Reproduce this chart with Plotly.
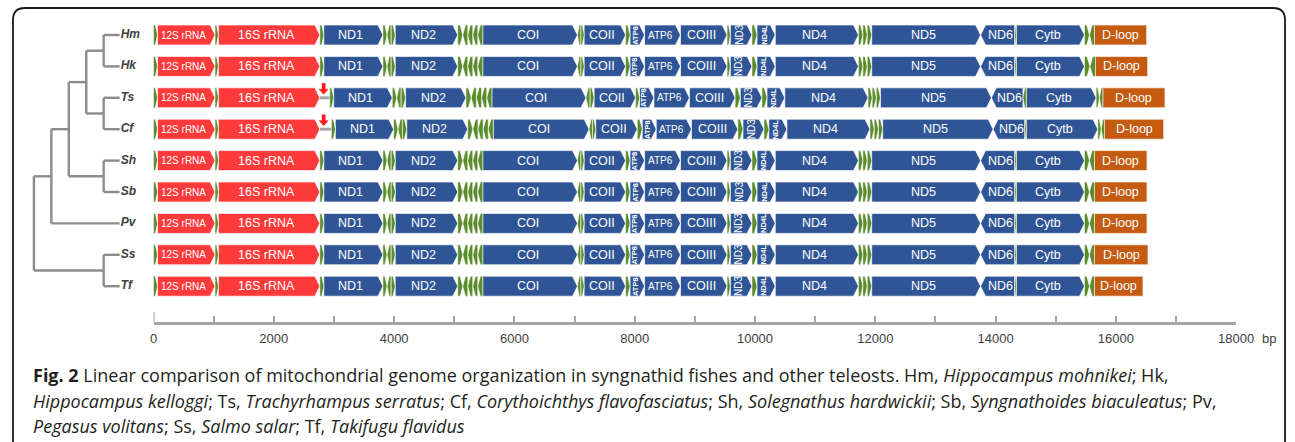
import plotly.graph_objects as go

REF_W, H = 1295, 442          # design grid (px)
FIG_W = 1313                  # rendered canvas width

# ---------------------------------------------------------------- data
SPECIES = ["Hm", "Hk", "Ts", "Cf", "Sh", "Sb", "Pv", "Ss", "Tf"]
TREE = (((((("Hm", "Hk"), ("Ts", "Cf")), ("Sh", "Sb")), "Pv"), ("Ss", "Tf")))

FEATURES = ["F", "12S rRNA", "V", "16S rRNA", "NC", "L1", "ND1", "IQM", "ND2",
            "WANCY", "COI", "SD", "COII", "K", "ATP8", "ATP6", "COIII", "G",
            "ND3", "R", "ND4L", "ND4", "HSL", "ND5", "ND6", "E", "Cytb", "TP",
            "D-loop"]
KINDS = ["trna", "rrna", "trna", "rrna", "nc", "trna", "pcg", "trna", "pcg",
         "trna", "pcg", "trna", "pcg", "trna", "pcg", "pcg", "pcg", "trna",
         "pcg", "trna", "pcg", "pcg", "trna", "pcg", "pcg", "trna", "pcg", "trna",
         "dloop"]
# strand of each gene; tRNA clusters list one sign per tRNA
STRANDS = ["+", "+", "+", "+", "", "+", "+", "+-+", "+",
           "+----", "+", "-+", "+", "+", "+", "+", "+", "+",
           "+", "+", "+", "+", "+++", "+", "-", "-", "+", "+-",
           ""]

# feature start positions (bp), last value = genome end
BOUNDS = {
    "Hm": [0, 66, 1023, 1078, 2765, 2765, 2831, 3814, 4018, 5058, 5473, 7048, 7159, 7849, 7922,
           8164, 8761, 9536, 9590, 9950, 10033, 10337, 11720, 11940, 13750, 14317, 14345, 15478,
           15643, 16512],
    "Hk": [0, 66, 1023, 1078, 2765, 2765, 2831, 3814, 4018, 5058, 5473, 7048, 7159, 7849, 7922,
           8164, 8761, 9536, 9590, 9950, 10033, 10337, 11720, 11940, 13750, 14317, 14345, 15478,
           15660, 16529],
    "Ts": [0, 66, 1023, 1078, 2765, 2930, 2995, 3970, 4190, 5195, 5625, 7190, 7325, 8015, 8080,
           8320, 8910, 9670, 9755, 10116, 10200, 10495, 11880, 12085, 13930, 14455, 14510, 15672,
           15782, 16816],
    "Cf": [0, 66, 1023, 1078, 2765, 2957, 3023, 3992, 4210, 5224, 5650, 7242, 7352, 8043, 8126,
           8358, 8944, 9715, 9800, 10150, 10230, 10530, 11912, 12123, 13959, 14484, 14512, 15700,
           15810, 16795],
    "Sh": [0, 66, 1023, 1078, 2765, 2765, 2831, 3814, 4018, 5058, 5473, 7048, 7159, 7849, 7922,
           8164, 8761, 9536, 9590, 9950, 10033, 10337, 11720, 11940, 13750, 14317, 14345, 15478,
           15643, 16517],
    "Sb": [0, 66, 1023, 1078, 2765, 2765, 2831, 3814, 4018, 5058, 5473, 7048, 7159, 7849, 7922,
           8164, 8761, 9536, 9590, 9950, 10033, 10337, 11720, 11940, 13750, 14317, 14345, 15478,
           15643, 16517],
    "Pv": [0, 66, 1023, 1078, 2765, 2765, 2831, 3814, 4018, 5058, 5473, 7048, 7159, 7849, 7922,
           8164, 8761, 9536, 9590, 9950, 10033, 10337, 11720, 11940, 13750, 14317, 14345, 15478,
           15643, 16517],
    "Ss": [0, 66, 1023, 1078, 2765, 2765, 2831, 3814, 4018, 5058, 5473, 7048, 7159, 7849, 7922,
           8164, 8761, 9536, 9590, 9950, 10033, 10337, 11720, 11940, 13750, 14317, 14345, 15478,
           15643, 16534],
    "Tf": [0, 66, 1023, 1078, 2765, 2765, 2831, 3814, 4018, 5058, 5473, 7048, 7159, 7849, 7922,
           8164, 8761, 9536, 9590, 9950, 10033, 10337, 11720, 11940, 13750, 14317, 14345, 15478,
           15643, 16451],
}
# position of the inserted non-coding region marker
INSERTION_MARK = {"Ts": 2828, "Cf": 2828}

SCALE_TICKS = [0, 2000, 4000, 6000, 8000, 10000, 12000, 14000, 16000, 18000]

CAPTION = [
    "<b>Fig. 2</b> Linear comparison of mitochondrial genome organization in syngnathid fishes "
    "and other teleosts. Hm, <i>Hippocampus mohnikei</i>; Hk,",
    "<i>Hippocampus kelloggi</i>; Ts, <i>Trachyrhampus serratus</i>; Cf, "
    "<i>Corythoichthys flavofasciatus</i>; Sh, <i>Solegnathus hardwickii</i>; Sb, "
    "<i>Syngnathoides biaculeatus</i>; Pv,",
    "<i>Pegasus volitans</i>; Ss, <i>Salmo salar</i>; Tf, <i>Takifugu flavidus</i>",
]

# ---------------------------------------------------------------- layout geometry
X_ZERO_PX, X_END_PX, SCALE_MAX = 150, 1236, 18000
PX_PER_BP = (X_END_PX - X_ZERO_PX) / SCALE_MAX
ROW0_PX, ROW_STEP_PX = 35, 31.4
HALF = 10 / ROW_STEP_PX            # half box height in row units
TIP = 5 / PX_PER_BP                 # arrow tip length in bp
AXIS_Y_PX = 322

COLORS = {"rrna": "#FF3A3A", "pcg": "#2F5597", "dloop": "#C55A11", "trna": "#5B8C2C"}
FONT = "Liberation Sans, Arial, sans-serif"

LABEL_STYLE = {
    "12S rRNA": dict(size=10),
    "ATP8": dict(size=7.5, angle=-90, bold=True),
    "ND4L": dict(size=7.5, angle=-90, bold=True),
    "ND3": dict(size=10, angle=-90),
    "ATP6": dict(size=10),
}


def fwd_arrow(s, e, y, tip):
    tip = min(tip, (e - s))
    return [s, e - tip, e, e - tip, s, s, None], [y - HALF, y - HALF, y, y + HALF, y + HALF, y - HALF, None]


def rev_arrow(s, e, y, tip):
    tip = min(tip, (e - s))
    return [e, s + tip, s, s + tip, e, e, None], [y - HALF, y - HALF, y, y + HALF, y + HALF, y - HALF, None]


def box(s, e, y):
    return [s, e, e, s, s, None], [y - HALF, y - HALF, y + HALF, y + HALF, y - HALF, None]


polys = {k: ([], []) for k in COLORS}
nc_x, nc_y = [], []
mark_x, mark_y = [], []
annotations = []

for row, sp in enumerate(SPECIES):
    b = BOUNDS[sp]
    for i, name in enumerate(FEATURES):
        s, e = b[i], b[i + 1]
        kind, strand = KINDS[i], STRANDS[i]
        if e <= s:
            continue
        if kind == "nc":
            nc_x += [s, e, None]
            nc_y += [row, row, None]
            continue
        px, py = polys[kind]
        if kind == "trna":
            n = len(strand)
            w = (e - s) / n
            for j, sg in enumerate(strand):
                a, z = s + j * w, s + (j + 1) * w
                xs, ys = (fwd_arrow if sg == "+" else rev_arrow)(a, z, row, w * 0.55)
                px += xs
                py += ys
            continue
        if kind == "dloop":
            xs, ys = box(s, e, row)
            cx = (s + e) / 2
        elif strand == "-":
            xs, ys = rev_arrow(s, e, row, TIP)
            cx = (s + TIP + e) / 2
        else:
            xs, ys = fwd_arrow(s, e, row, TIP)
            cx = (s + e - TIP) / 2
        px += xs
        py += ys
        st = LABEL_STYLE.get(name, {})
        txt = f"<b>{name}</b>" if st.get("bold") else name
        annotations.append(dict(
            x=cx, y=row, xref="x", yref="y", text=txt, showarrow=False,
            textangle=st.get("angle", 0),
            font=dict(family=FONT, size=st.get("size", 12.5), color="white"),
            xanchor="center", yanchor="middle"))
    if sp in INSERTION_MARK:
        m = INSERTION_MARK[sp]
        sw, hw = 1.6 / PX_PER_BP, 4.5 / PX_PER_BP
        top = row - 14.5 / ROW_STEP_PX
        neck = row - 8.5 / ROW_STEP_PX
        tipy = row - 3.5 / ROW_STEP_PX
        mark_x += [m - sw, m + sw, m + sw, m + hw, m, m - hw, m - sw, m - sw, None]
        mark_y += [top, top, neck, neck, tipy, neck, neck, top, None]

fig = go.Figure()

fig.add_trace(go.Scatter(x=nc_x, y=nc_y, mode="lines", line=dict(color="#A6A6A6", width=3),
                         hoverinfo="skip", showlegend=False))
for kind in ["rrna", "pcg", "dloop", "trna"]:
    xs, ys = polys[kind]
    edge = 0.6 if kind == "trna" else 0.8
    fig.add_trace(go.Scatter(x=xs, y=ys, mode="lines", fill="toself", fillcolor=COLORS[kind],
                             line=dict(color="rgba(255,255,255,0.85)", width=edge),
                             hoverinfo="skip", showlegend=False))
fig.add_trace(go.Scatter(x=mark_x, y=mark_y, mode="lines", fill="toself", fillcolor="#FF1A1A",
                         line=dict(color="#FF1A1A", width=0.5), hoverinfo="skip", showlegend=False))

# ---------------------------------------------------------------- cladogram
TREE_X0, TREE_STEP, LEAF_X = 30, 17.5, 116
row_of = {sp: i for i, sp in enumerate(SPECIES)}


def height(node):
    if isinstance(node, str):
        return 0
    return 1 + max(height(c) for c in node)


ROOT_H = height(TREE)
tx, ty = [], []


def place(node):
    if isinstance(node, str):
        return LEAF_X, row_of[node]
    kids = [place(c) for c in node]
    x = TREE_X0 + TREE_STEP * (ROOT_H - height(node))
    y = (kids[0][1] + kids[-1][1]) / 2
    tx.extend([x, x, None])
    ty.extend([kids[0][1], kids[-1][1], None])
    for kx, ky in kids:
        tx.extend([x, kx, None])
        ty.extend([ky, ky, None])
    return x, y


place(TREE)
fig.add_trace(go.Scatter(x=tx, y=ty, xaxis="x2", yaxis="y", mode="lines",
                         line=dict(color="#8C8C8C", width=2.4), hoverinfo="skip",
                         showlegend=False))
fig.add_trace(go.Scatter(x=[LEAF_X + 1] * len(SPECIES), y=list(range(len(SPECIES))),
                         xaxis="x2", yaxis="y", mode="text",
                         text=[f"<b><i>{s}</i></b>" for s in SPECIES],
                         textposition="middle right",
                         textfont=dict(family=FONT, size=12, color="#404040"),
                         hoverinfo="skip", showlegend=False))

# scale bar axis
fig.add_trace(go.Scatter(x=[0, SCALE_MAX], y=[0, 0], xaxis="x3", yaxis="y3", mode="markers",
                         marker=dict(opacity=0), hoverinfo="skip", showlegend=False))

bp_range = [-X_ZERO_PX / PX_PER_BP, (REF_W - X_ZERO_PX) / PX_PER_BP]
row_range = [(H - ROW0_PX) / ROW_STEP_PX, -ROW0_PX / ROW_STEP_PX]
axis_frac = 1 - AXIS_Y_PX / H

fig.update_layout(
    width=FIG_W, height=H, margin=dict(l=0, r=0, t=0, b=0), autosize=False,
    paper_bgcolor="white", plot_bgcolor="rgba(0,0,0,0)",
    xaxis=dict(domain=[0, 1], range=bp_range, visible=False, fixedrange=True),
    yaxis=dict(domain=[0, 1], range=row_range, visible=False, fixedrange=True),
    xaxis2=dict(domain=[0, 1], range=[0, REF_W], visible=False, overlaying="x", anchor="y"),
    xaxis3=dict(domain=[X_ZERO_PX / REF_W, X_END_PX / REF_W], range=[0, SCALE_MAX], anchor="y3",
                showline=True, linecolor="#A6A6A6", linewidth=2.5, showgrid=False,
                zeroline=False, ticks="inside", ticklen=6, tickwidth=2, tickcolor="#A6A6A6",
                tickvals=SCALE_TICKS, ticktext=[str(t) for t in SCALE_TICKS],
                ticklabelstandoff=3,
                tickfont=dict(family=FONT, size=13, color="#404040"),
                minor=dict(dtick=1000, ticks="inside", ticklen=6, tickwidth=2,
                           tickcolor="#A6A6A6")),
    yaxis3=dict(domain=[axis_frac, axis_frac + 0.02], range=[0, 1], visible=False),
    showlegend=False,
)

fx = lambda v: v / REF_W
fy = lambda v: 1 - v / H

annotations.append(dict(x=fx(1269), y=fy(338), xref="paper", yref="paper", text="bp",
                        showarrow=False, xanchor="center", yanchor="middle",
                        font=dict(family=FONT, size=13, color="#404040")))

for k, line in enumerate(CAPTION):
    annotations.append(dict(x=fx(27), y=fy(375 + 25.7 * k), xref="paper", yref="paper",
                            text=line, showarrow=False, xanchor="left", yanchor="middle",
                            align="left",
                            font=dict(family="Open Sans, sans-serif", size=18, color="#231F20")))
fig.update_layout(annotations=annotations)

# rounded frame around the figure
r = 12
L, T, R, B = 9, 8, 1285, 460
path = (f"M {fx(L)},{fy(B)} L {fx(L)},{fy(T + r)} Q {fx(L)},{fy(T)} {fx(L + r)},{fy(T)} "
        f"L {fx(R - r)},{fy(T)} Q {fx(R)},{fy(T)} {fx(R)},{fy(T + r)} L {fx(R)},{fy(B)}")
fig.add_shape(type="path", path=path, xref="paper", yref="paper",
              line=dict(color="#1A1A1A", width=1.8))
# taller tick at the origin of the scale bar
fig.add_shape(type="line", x0=0, x1=0, xref="x3", y0=fy(AXIS_Y_PX), y1=fy(AXIS_Y_PX - 10),
              yref="paper", line=dict(color="#A6A6A6", width=2))

fig.write_html("out.html")
